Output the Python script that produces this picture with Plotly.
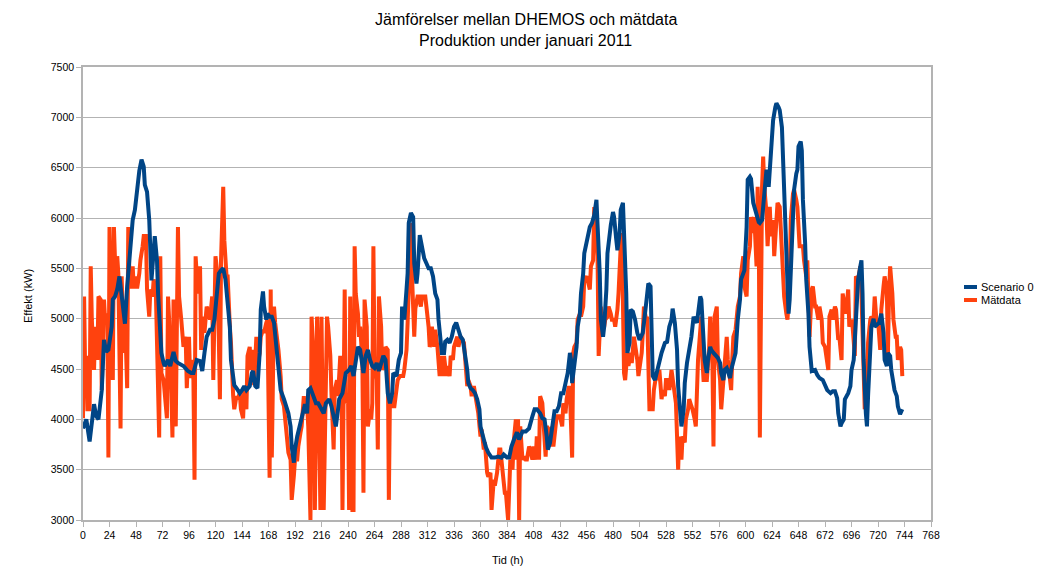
import plotly.graph_objects as go

# (hour, kW) pairs
scenario0 = [
(0,3910),(3,4000),(6,3780),(8,3950),(10,4150),(12,4030),(14,4000),(17,4290),(19,4790),(21,4670),(23,4690),
(26,4920),(27,5190),(29,5220),(31,5290),(33,5420),(35,5190),(38,4950),(40,5320),(42,5580),(45,5980),(47,6080),
(49,6280),(51,6470),(53,6580),(55,6510),(56,6330),(58,6260),(60,5980),(62,5380),(65,5820),(67,5580),(68,5250),
(71,4660),(73,4560),(74,4530),(77,4590),(79,4530),(82,4670),(84,4580),(86,4560),(91,4530),(95,4480),(98,4460),
(100,4460),(103,4590),(106,4580),(108,4480),(110,4660),(112,4820),(115,4890),(117,4890),(119,4990),(121,5190),
(123,5450),(125,5480),(127,5500),(129,5390),(131,5150),(133,4920),(134,4590),(136,4390),(137,4340),(139,4310),
(142,4260),(144,4290),(146,4330),(148,4290),(151,4330),(153,4460),(154,4480),(156,4330),(158,4310),(160,4660),
(161,5090),(163,5270),(164,5120),(166,4990),(167,5050),(169,5020),(171,5020),(173,4960),(175,4720),(177,4490),
(179,4290),(182,4200),(184,4130),(186,4060),(188,3930),(189,3730),(191,3570),(192,3700),(194,3830),(197,3960),
(199,4080),(201,4150),(203,4060),(204,4290),(206,4310),(209,4200),(211,4160),(213,4160),(216,4100),(218,4060),
(220,4160),(223,4200),(225,4130),(227,4000),(229,3930),(231,4100),(232,4200),(235,4260),(237,4390),(238,4460),
(241,4490),(243,4530),(245,4430),(247,4590),(249,4720),(251,4690),(253,4490),(254,4460),(256,4630),(258,4690),
(260,4590),(262,4530),(264,4510),(266,4560),(268,4480),(270,4560),(272,4630),(274,4590),(276,4260),(278,4160),
(280,4260),(281,4460),(284,4430),(286,4590),(288,4660),(289,5120),(291,4990),(293,5290),(294,5450),(295,5950),
(297,6050),(299,6010),(300,5550),(302,5350),(303,5450),(305,5830),(306,5780),(309,5600),(311,5550),(313,5500),
(315,5500),(317,5420),(319,5250),(321,5190),(322,4990),(324,4790),(325,4660),(327,4660),(328,4770),(330,4790),
(332,4760),(334,4820),(336,4920),(338,4960),(340,4890),(342,4820),(344,4790),(346,4660),(348,4490),(349,4360),
(351,4310),(353,4290),(355,4260),(357,4200),(359,4100),(360,3930),(361,3870),(363,3800),(365,3720),(367,3670),
(370,3620),(373,3620),(376,3630),(379,3620),(381,3650),(384,3620),(386,3620),(388,3730),(391,3820),(393,3870),
(395,3800),(398,3880),(401,3880),(404,3910),(407,4030),(409,4100),(411,4100),(414,4060),(416,4010),(418,4000),
(420,3830),(421,3700),(423,3770),(425,3930),(427,4080),(429,4080),(431,4130),(433,4260),(435,4260),(437,4360),
(439,4460),(441,4660),(442,4590),(443,4360),(445,4530),(447,4720),(448,4920),(450,5050),(451,5250),(453,5450),
(454,5650),(456,5750),(458,5820),(459,5910),(461,5950),(463,6030),(465,6180),(466,5980),(468,5450),(469,4990),
(471,4820),(472,4920),(474,5290),(475,5650),(477,5910),(478,5930),(480,6060),(481,6010),(483,5780),(484,5680),
(486,5850),(487,6080),(489,6150),(490,5850),(492,5250),(493,4660),(495,4760),(496,5090),(498,5070),(500,4990),
(502,4860),(504,4790),(507,4860),(509,5050),(511,5250),(512,5350),(514,5320),(515,4920),(516,4430),(518,4390),
(520,4490),(522,4560),(524,4660),(527,4760),(529,4770),(531,4920),(533,4990),(534,5100),(536,4960),(538,4690),
(539,4330),(541,4060),(542,3930),(544,4100),(545,4360),(547,4560),(549,4690),(551,4820),(553,5020),(554,4990),
(556,4960),(557,5050),(559,5220),(560,5190),(562,4860),(563,4590),(565,4460),(566,4590),(568,4720),(569,4690),
(571,4660),(573,4630),(575,4610),(577,4560),(578,4460),(580,4390),(581,4490),(583,4510),(586,4410),(587,4490),
(589,4560),(591,4660),(593,4990),(595,5190),(596,5390),(599,5480),(601,5910),(602,6380),(604,6410),(605,6390),
(607,6150),(608,6110),(610,6050),(612,5960),(613,5950),(615,5980),(616,6110),(618,6380),(619,6480),(621,6310),
(622,6480),(624,6670),(625,6970),(627,7100),(628,7140),(630,7100),(631,7070),(633,6900),(634,6580),(636,6080),
(637,5580),(638,5190),(639,5050),(640,5190),(642,5720),(643,6050),(644,6280),(646,6440),(647,6480),(648,6710),
(650,6760),(651,6670),(652,6180),(654,5750),(655,5390),(657,5050),(658,4720),(660,4480),(661,4480),(663,4490),
(665,4440),(667,4410),(670,4390),(672,4340),(674,4290),(677,4260),(679,4280),(681,4280),(683,4210),(684,4060),
(686,3930),(687,3960),(689,4000),(690,4200),(692,4230),(693,4260),(695,4330),(696,4490),(698,4590),(699,4820),
(701,5250),(702,5390),(704,5520),(705,5580),(706,5250),(707,4590),(709,4060),(710,3930),(711,4230),(713,4590),
(714,4920),(716,5000),(717,4920),(719,4940),(721,4960),(723,5050),(725,4860),(726,4590),(728,4530),(729,4660),
(731,4630),(732,4490),(734,4360),(735,4290),(737,4230),(738,4130),(740,4050),(741,4080),(742,4100),
]

matdata = [
(0,4010),(1,5220),(2,4430),(3,4630),(4,4100),(6,4100),(7,5520),(8,4990),(10,4490),(11,4920),(13,4590),(14,5220),
(16,5190),(17,4290),(19,5190),(20,4990),(22,5050),(23,3620),(24,5910),(26,4490),(27,4390),(28,5910),(30,5250),
(31,5620),(32,5450),(34,3910),(35,5420),(37,4660),(38,5050),(40,4310),(41,5910),(42,5450),(43,5300),(45,5520),
(46,5300),(48,5420),(49,5300),(51,5450),(52,5580),(54,5720),(55,5820),(57,5820),(58,5290),(60,5020),(61,5290),
(63,5220),(64,5390),(66,5250),(67,4820),(69,3820),(70,5620),(71,4460),(73,4390),(74,4260),(76,4010),(77,5220),
(78,4990),(80,4260),(81,3820),(82,5190),(84,3930),(86,5910),(87,5220),(89,4990),(91,4720),(93,4820),(94,4310),
(96,4820),(97,4410),(99,4590),(100,4390),(101,3400),(102,5620),(104,5250),(106,5520),(107,4690),(109,5020),
(110,4860),(112,5120),(114,5050),(115,4990),(117,5220),(118,4390),(120,5620),(122,5420),(124,4200),(125,5580),
(127,6310),(128,5780),(130,5420),(131,5420),(133,4920),(134,4760),(136,4230),(137,4100),(139,4230),(140,4200),
(142,4260),(143,4100),(145,4010),(146,4290),(148,4100),(149,4630),(151,4720),(152,4490),(154,4690),(155,4340),
(157,4820),(158,4530),(160,4660),(161,4820),(163,4890),(164,4860),(166,4960),(167,4990),(169,3420),(170,5290),
(171,3620),(173,5120),(174,4960),(176,4790),(177,4690),(179,4430),(180,4200),(182,4130),(183,4000),(185,3800),
(186,3670),(188,3600),(189,3200),(191,3440),(192,3600),(194,3600),(195,3730),(197,3870),(198,3930),(200,4230),
(201,4060),(203,4130),(204,3930),(206,3000),(207,5020),(209,4590),(210,3100),(212,5020),(213,4590),(215,3100),
(216,5020),(218,3100),(219,3930),(221,5020),(222,4920),(224,4630),(225,4260),(227,3700),(228,4290),(230,4390),
(231,4230),(233,4630),(234,4590),(235,3100),(237,5290),(238,4160),(240,4260),(241,3100),(242,5220),(244,3100),
(245,3100),(246,5720),(247,5250),(249,5050),(250,4820),(251,4920),(253,4590),(254,3270),(255,5190),(257,4920),
(258,3930),(260,4100),(261,4000),(262,4160),(263,5720),(264,4590),(266,4390),(267,3700),(268,5220),(270,4920),
(271,4490),(273,4590),(274,4720),(276,4690),(277,3200),(278,4230),(279,4260),(281,4130),(282,4130),(284,4330),
(285,4390),(287,4430),(288,4430),(290,4430),(291,4490),(293,4690),(294,4960),(295,5250),(297,5950),(298,5420),
(300,4820),(301,5100),(303,5220),(304,5220),(306,5120),(307,5220),(310,5220),(311,5120),(313,4920),(314,4720),
(315,4760),(316,4920),(318,4720),(319,4890),(321,4720),(323,4430),(324,4630),(326,4430),(327,4630),(329,4430),
(330,4530),(332,4430),(333,4630),(335,4590),(336,4720),(338,4790),(339,4820),(340,4720),(342,4820),(345,4760),
(346,4590),(348,4330),(349,4390),(351,4330),(352,4230),(354,4330),(355,4260),(356,4200),(358,4060),(360,3830),
(361,3900),(363,3700),(364,3770),(366,3470),(367,3430),(369,3470),(370,3100),(372,3400),(373,3340),(375,3470),
(377,3700),(378,3700),(380,3470),(382,3270),(383,3270),(385,3000),(387,3600),(389,3500),(390,3770),(392,4000),
(393,3600),(394,4000),(395,3000),(396,3930),(398,3600),(400,3630),(401,3600),(402,3600),(404,3730),(405,3700),
(407,3600),(408,3730),(410,3600),(411,3830),(413,3600),(414,4230),(416,4160),(417,3930),(419,3630),(420,3930),
(422,3900),(423,3730),(425,3930),(426,3730),(428,4000),(429,4030),(431,4030),(432,4030),(434,3930),(435,4160),
(437,4060),(438,4200),(440,4330),(441,4260),(443,3620),(444,4660),(445,4720),(447,4760),(448,4990),(450,5050),
(451,5020),(453,5120),(454,5390),(456,5420),(457,5390),(459,5290),(460,5520),(462,5580),(463,6110),(464,6010),
(466,5620),(467,4630),(469,5120),(470,4920),(472,4920),(473,4990),(475,5020),(476,5120),(478,5050),(479,4990),
(481,4990),(482,4920),(484,5090),(485,5250),(487,5720),(488,5850),(490,4460),(491,4390),(493,4660),(494,4530),
(496,4660),(497,4560),(499,4820),(500,4760),(502,4590),(503,4430),(505,4590),(506,4660),(507,4860),(508,5120),
(510,4990),(511,5020),(513,4100),(514,4100),(516,4100),(517,4290),(519,4430),(520,4390),(522,4490),(524,4200),
(525,4290),(527,4230),(528,4390),(530,4390),(531,4290),(533,4490),(534,4390),(536,4200),(537,4160),(539,3500),
(540,3830),(542,3600),(543,3830),(545,3770),(546,4000),(548,4100),(549,4200),(551,4130),(552,4100),(554,4000),
(555,3930),(557,4590),(558,4720),(560,5020),(561,4590),(562,4390),(564,4390),(565,4390),(567,4690),(568,5020),
(570,4590),(571,3730),(572,5020),(574,5120),(575,4590),(577,4390),(578,4100),(580,4390),(581,4630),(583,4820),
(584,4590),(586,4390),(587,4290),(588,4590),(589,4820),(591,4890),(592,4990),(593,5120),(595,5220),(596,5450),
(598,5620),(599,5320),(601,5220),(602,5580),(604,5720),(605,6010),(607,5850),(608,6010),(610,5520),(611,6310),
(612,5980),(613,3820),(615,6310),(616,6610),(617,6310),(619,6050),(620,5720),(622,6110),(623,5820),(625,5980),
(626,5620),(628,5980),(629,6150),(631,6110),(632,5850),(634,5520),(635,5220),(637,5050),(638,4990),(640,5320),
(641,5980),(643,6240),(644,6280),(646,6180),(647,6110),(649,5720),(650,5720),(652,5720),(653,5580),(655,5420),
(656,5580),(657,5250),(658,4820),(660,5290),(661,5320),(663,5120),(664,5120),(666,4990),(667,5120),(669,4990),
(670,4760),(672,4720),(673,4630),(675,4490),(676,5020),(678,5090),(679,4990),(681,5120),(682,5090),(684,4790),
(685,4820),(687,4590),(688,5250),(690,5120),(691,5050),(693,5290),(694,4920),(696,4990),(697,4920),(699,4630),
(700,5420),(702,5390),(704,5520),(705,5250),(707,4290),(708,4100),(710,4260),(711,4760),(713,4990),(714,5020),
(716,4990),(717,5220),(719,4920),(720,4990),(722,4690),(723,5090),(725,5320),(726,5420),(728,5290),(729,4660),
(730,5250),(731,5520),(733,5250),(734,4990),(736,4820),(737,4820),(738,4590),(740,4720),(741,4690),(742,4430),
]

series_names = ["Scenario 0", "Mätdata"]
x_ticks = list(range(0, 769, 24))
y_ticks = list(range(3000, 7501, 500))
title_lines = ["Jämförelser mellan DHEMOS och mätdata", "Produktion under januari 2011"]

BLUE = "#004586"
ORANGE = "#ff420e"
GRID = "#b3b3b3"
FONT = "Liberation Sans, Arial, sans-serif"

W, H = 1051, 583
L, R, T, B = 83, 120, 67, 63
PW, PH = W - L - R, H - T - B


def px_x(x):
    return (x - L) / PW


def px_y(y):
    return (H - B - y) / PH


fig = go.Figure()
fig.add_trace(go.Scatter(
    x=[p[0] for p in matdata], y=[p[1] for p in matdata],
    mode="lines", name=series_names[1], showlegend=False,
    line=dict(color=ORANGE, width=4),
))
fig.add_trace(go.Scatter(
    x=[p[0] for p in scenario0], y=[p[1] for p in scenario0],
    mode="lines", name=series_names[0], showlegend=False,
    line=dict(color=BLUE, width=4),
))

fig.update_layout(
    width=W, height=H,
    margin=dict(l=L, r=R, t=T, b=B, autoexpand=False),
    paper_bgcolor="white", plot_bgcolor="white",
    font=dict(family=FONT, size=11, color="#000000"),
    showlegend=False,
)
fig.update_xaxes(
    range=[0, 768], tickmode="array", tickvals=x_ticks, ticktext=[str(v) for v in x_ticks],
    showgrid=False, zeroline=False,
    showline=True, linecolor=GRID, linewidth=1.5, mirror=True,
    ticks="outside", ticklen=5, tickcolor=GRID, tickwidth=1,
    tickfont=dict(family=FONT, size=10.5, color="#000000"),
)
fig.update_yaxes(
    range=[3000, 7500], tickmode="array", tickvals=y_ticks, ticktext=[str(v) for v in y_ticks],
    showgrid=True, gridcolor=GRID, gridwidth=1, zeroline=False,
    showline=True, linecolor=GRID, linewidth=1.5, mirror=True,
    ticks="outside", ticklen=5, tickcolor=GRID, tickwidth=1,
    tickfont=dict(family=FONT, size=10.5, color="#000000"),
)

# title (two centred lines)
for txt, ypx in zip(title_lines, [20, 41]):
    fig.add_annotation(text=txt, xref="paper", yref="paper", x=px_x(W / 2), y=px_y(ypx),
                       showarrow=False, xanchor="center", yanchor="middle",
                       font=dict(family=FONT, size=16, color="#000000"))

# axis titles
fig.add_annotation(text="Effekt (kW)", xref="paper", yref="paper", x=px_x(28), y=px_y(296),
                   textangle=-90, showarrow=False, xanchor="center", yanchor="middle",
                   font=dict(family=FONT, size=11, color="#000000"))
fig.add_annotation(text="Tid (h)", xref="paper", yref="paper", x=px_x(507), y=px_y(560),
                   showarrow=False, xanchor="center", yanchor="middle",
                   font=dict(family=FONT, size=11, color="#000000"))

# legend (short swatches like the reference)
for name, col, ypx in zip(series_names, [BLUE, ORANGE], [287, 300]):
    fig.add_shape(type="line", xref="paper", yref="paper",
                  x0=px_x(964), x1=px_x(977), y0=px_y(ypx), y1=px_y(ypx),
                  line=dict(color=col, width=4))
    fig.add_annotation(text=name, xref="paper", yref="paper", x=px_x(979), y=px_y(ypx),
                       showarrow=False, xanchor="left", yanchor="middle",
                       font=dict(family=FONT, size=11, color="#000000"))

fig.write_html("out.html", config={"displayModeBar": False},
               post_script="document.body.style.margin='0';")
